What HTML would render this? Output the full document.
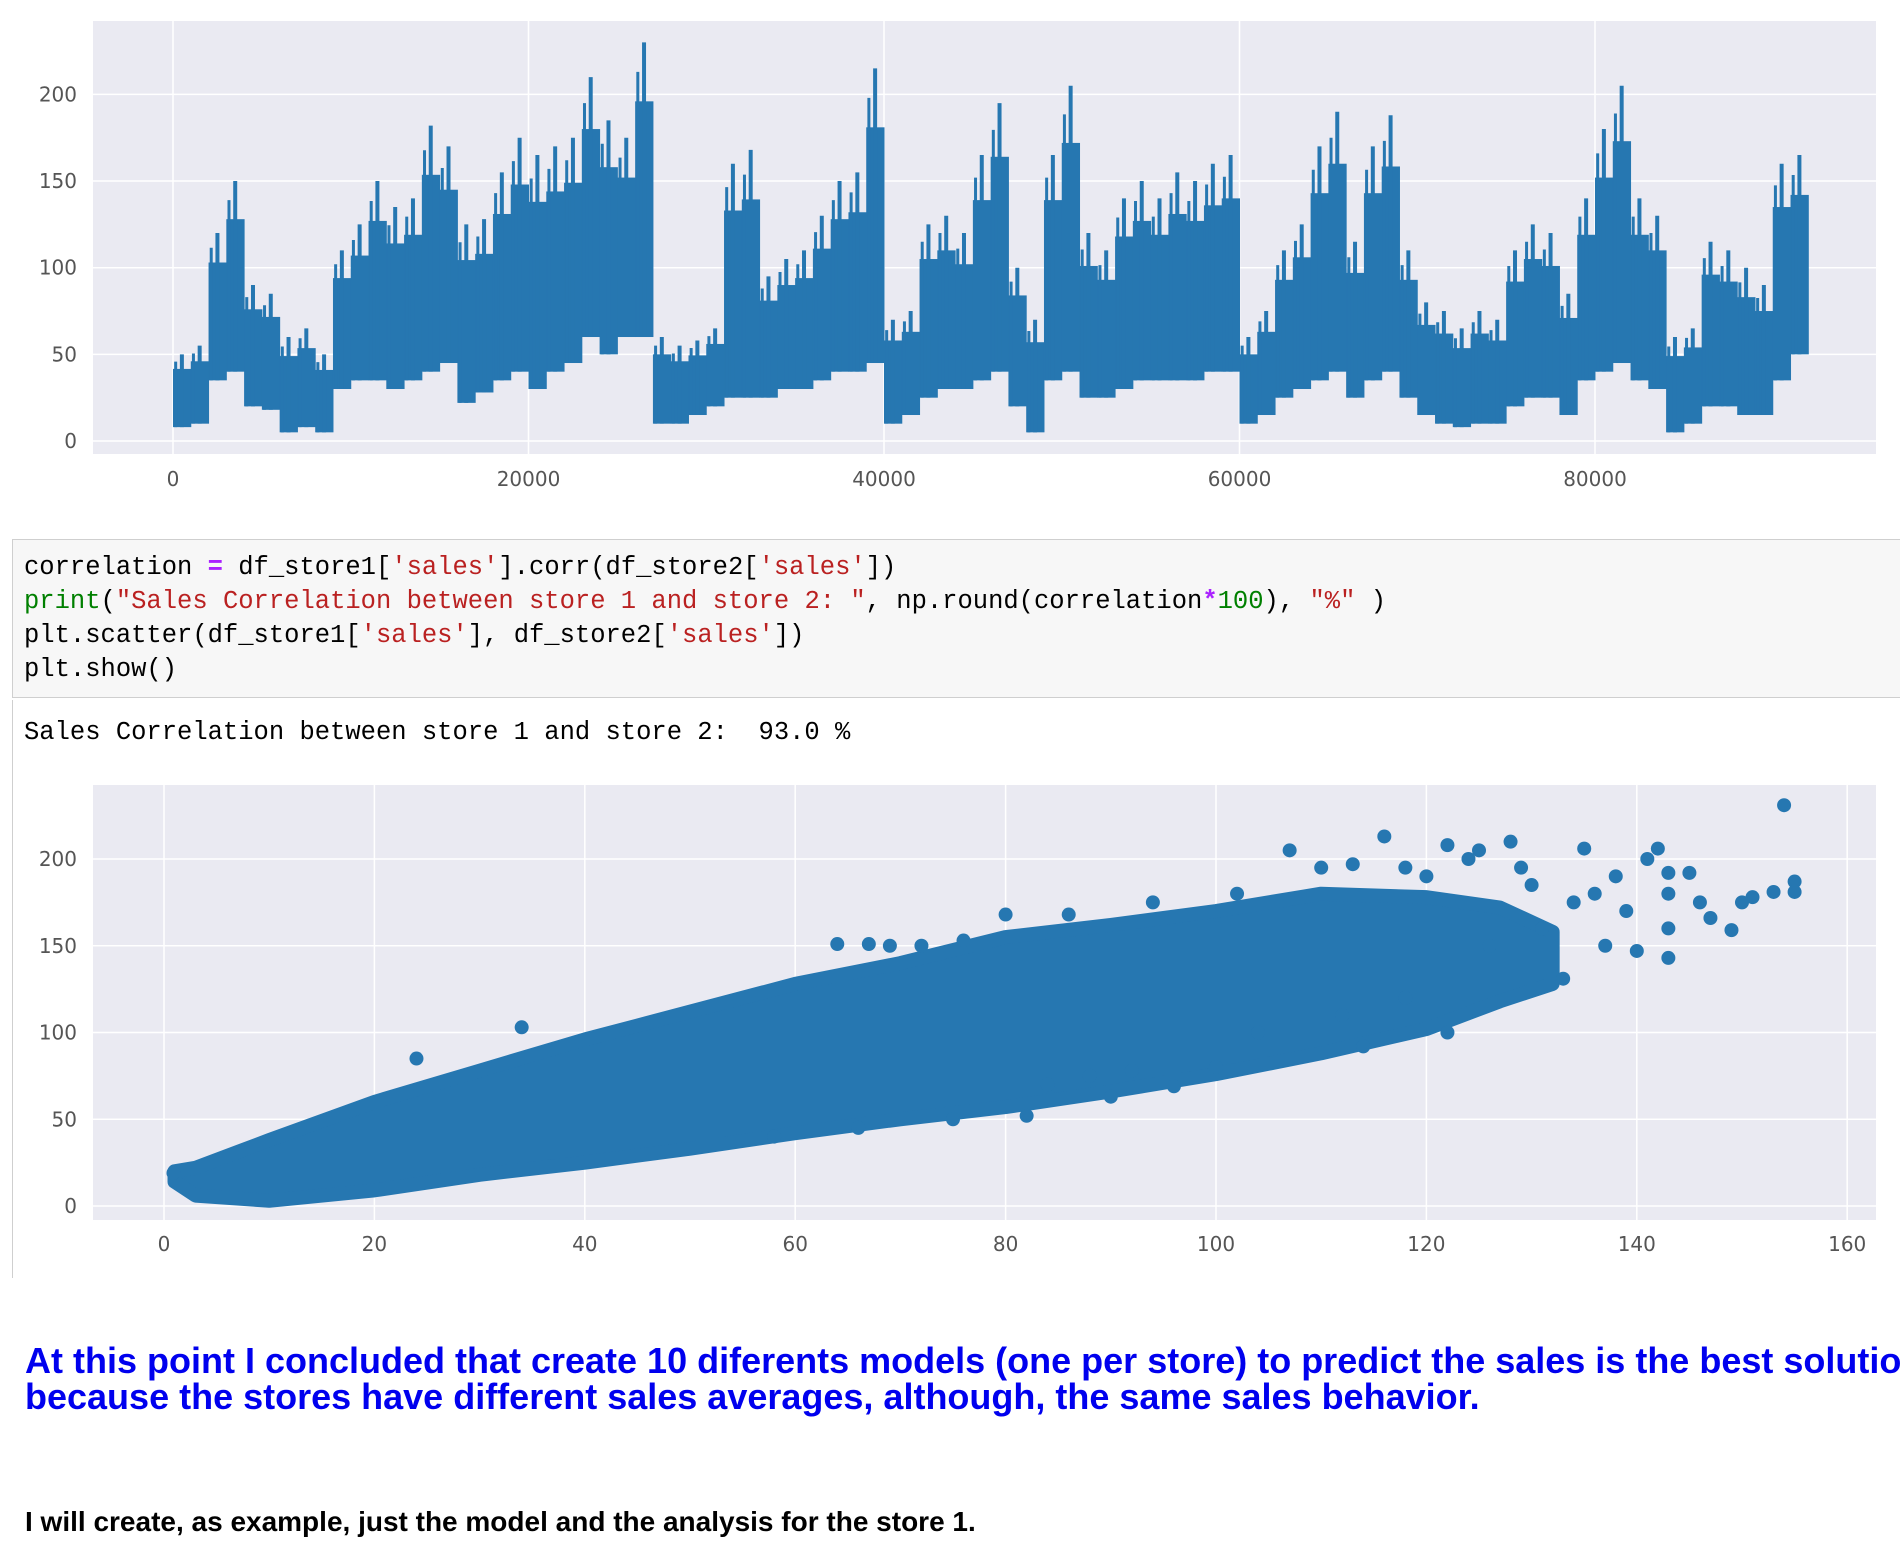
<!DOCTYPE html>
<html><head><meta charset="utf-8">
<style>
html,body{margin:0;padding:0;background:#fff;width:1900px;height:1548px;overflow:hidden;position:relative;font-family:"Liberation Sans",sans-serif}
#charts{position:absolute;left:0;top:0}
.code{position:absolute;left:12px;top:539px;width:1900px;height:159px;background:#f7f7f7;border:1px solid #cfcfcf;box-sizing:border-box}
.mono{font-family:"Liberation Mono",monospace;font-size:25.5px;white-space:pre;position:absolute;left:24px;color:#000}
.k{color:#aa22ff;font-weight:bold}.s{color:#ba2121}.g{color:#008000}
.outbar{position:absolute;left:12px;top:700px;width:1px;height:578px;background:#cfcfcf}
.blue{position:absolute;left:25px;top:1343px;color:#0000ee;font-weight:bold;font-size:36px;line-height:36px;white-space:nowrap}
.black{position:absolute;left:25px;top:1506px;font-weight:bold;font-size:28px;color:#000;white-space:nowrap}
</style></head><body>
<svg id="charts" width="1900" height="1548"></svg>
<div class="code"></div>
<div class="mono" style="top:553px">correlation <span class="k">=</span> df_store1[<span class="s">'sales'</span>].corr(df_store2[<span class="s">'sales'</span>])</div>
<div class="mono" style="top:587px"><span class="g">print</span>(<span class="s">"Sales Correlation between store 1 and store 2: "</span>, np.round(correlation<span class="k">*</span><span class="g">100</span>), <span class="s">"%"</span> )</div>
<div class="mono" style="top:621px">plt.scatter(df_store1[<span class="s">'sales'</span>], df_store2[<span class="s">'sales'</span>])</div>
<div class="mono" style="top:655px">plt.show()</div>
<div class="outbar"></div>
<div class="mono" style="top:718px">Sales Correlation between store 1 and store 2:  93.0 %</div>
<div class="blue">At this point I concluded that create 10 diferents models (one per store) to predict the sales is the best solution<br>because the stores have different sales averages, although, the same sales behavior.</div>
<div class="black">I will create, as example, just the model and the analysis for the store 1.</div>
<script>
const lineHigh=[50,55,120,150,90,85,60,65,50,110,125,150,135,140,182,170,125,128,155,175,165,170,175,210,185,175,230,60,55,58,65,160,168,95,105,110,130,150,155,215,70,75,125,130,120,165,195,100,70,165,205,120,110,140,150,140,155,150,160,165,60,75,110,125,170,190,115,170,188,110,80,75,65,75,70,110,125,120,85,140,180,205,140,130,60,65,115,110,100,90,160,165];
const lineLow=[8,10,35,40,20,18,5,8,5,30,35,35,30,35,40,45,22,28,35,40,30,40,45,60,50,60,60,10,10,15,20,25,25,25,30,30,35,40,40,45,10,15,25,30,30,35,40,20,5,35,40,25,25,30,35,35,35,35,40,40,10,15,25,30,35,40,25,35,40,25,15,10,8,10,10,20,25,25,15,35,40,45,35,30,5,10,20,20,15,15,35,50];
const lineXTicks=[0,20000,40000,60000,80000];
const lineYTicks=[0,50,100,150,200];
const bandX=[1,3,10,20,30,40,50,60,70,80,90,100,110,120,127,132];
const bandLo=[14,6,3,9,18,25,33,42,50,57,66,76,88,102,118,128];
const bandHi=[20,22,38,60,78,96,112,128,140,155,162,170,180,178,172,158];
const outX=[0.9,154,155,155,153,151,150,149,147,146,145,143,140,137,135,142,133,122,114,96,116,107,128,24,34,64,67,80,125,122,143,143,143,141,138,136,139,131,126,118,112,104,92,88,84,69,72,76,86,94,102,110,118,130,134,129,124,120,113,100,90,82,75,66,58];
const outY=[19,231,187,181,181,178,175,159,166,175,192,143,147,150,206,206,131,100,92,69,213,205,210,85,103,151,151,168,205,208,192,180,160,200,190,180,170,160,150,120,110,100,78,75,70,150,150,153,168,175,180,195,195,185,175,195,200,190,197,80,63,52,50,45,40];
const scXTicks=[0,20,40,60,80,100,120,140,160];
const scYTicks=[0,50,100,150,200];
const NS='http://www.w3.org/2000/svg';
const svg=document.getElementById('charts');
function mk(t,a,p){const e=document.createElementNS(NS,t);for(const k in a)e.setAttribute(k,a[k]);(p||svg).appendChild(e);return e;}
const BLUE='#2677b1';
const lx=v=>173+v/20000*355.5, ly=v=>441-v*1.733;
const g1=mk('g',{});


const bg1=mk('rect',{x:93,y:21,width:1783,height:433,fill:'#eaeaf2'},g1);


lineXTicks.forEach(t=>{
  const l=mk('line',{x1:lx(t),x2:lx(t),y1:21,y2:454,stroke:'#fff','stroke-width':1.5},g1);
  
  
  const tx=mk('text',{x:lx(t),y:486,'text-anchor':'middle','font-size':20,fill:'#555','font-family':'DejaVu Sans, sans-serif'},g1);
  tx.textContent=t;
  
  
});
lineYTicks.forEach(t=>{
  const l=mk('line',{x1:93,x2:1876,y1:ly(t),y2:ly(t),stroke:'#fff','stroke-width':1.5},g1);
  
  
  const tx=mk('text',{x:77,y:ly(t)+7,'text-anchor':'end','font-size':20,fill:'#555','font-family':'DejaVu Sans, sans-serif'},g1);
  tx.textContent=t;
  
  
});
lineHigh.forEach((h,i)=>{
  const t=i*1000, lo=lineLow[i];
  const w=lx(t+1000)-lx(t);
  const r=mk('rect',{x:lx(t),y:ly((h+lo)/2+(h-lo)*0.3),width:w+0.5,height:ly(lo)-ly((h+lo)/2+(h-lo)*0.3),fill:BLUE},g1);
  
  
  const sp=mk('line',{x1:lx(t+500),x2:lx(t+500),y1:ly(h),y2:ly(lo),stroke:BLUE,'stroke-width':4},g1);
  
  
  const sp2=mk('line',{x1:lx(t+150),x2:lx(t+150),y1:ly(h*0.9+lo*0.1),y2:ly(lo),stroke:BLUE,'stroke-width':3},g1);
  
  
});
const sx=v=>164+v*10.52, sy=v=>1206-v*1.735;
const g2=mk('g',{});


const bg2=mk('rect',{x:93,y:785,width:1783,height:435,fill:'#eaeaf2'},g2);


scXTicks.forEach(t=>{
  const l=mk('line',{x1:sx(t),x2:sx(t),y1:785,y2:1220,stroke:'#fff','stroke-width':1.5},g2);
  
  
  const tx=mk('text',{x:sx(t),y:1251,'text-anchor':'middle','font-size':20,fill:'#555','font-family':'DejaVu Sans, sans-serif'},g2);
  tx.textContent=t;
  
  
});
scYTicks.forEach(t=>{
  const l=mk('line',{x1:93,x2:1876,y1:sy(t),y2:sy(t),stroke:'#fff','stroke-width':1.5},g2);
  
  
  const tx=mk('text',{x:77,y:sy(t)+7,'text-anchor':'end','font-size':20,fill:'#555','font-family':'DejaVu Sans, sans-serif'},g2);
  tx.textContent=t;
  
  
});
let bp=[];
bandX.forEach((x,i)=>bp.push(sx(x)+','+sy(bandHi[i])));
for(let i=bandX.length-1;i>=0;i--)bp.push(sx(bandX[i])+','+sy(bandLo[i]));
const band=mk('polygon',{points:bp.join(' '),fill:BLUE,stroke:BLUE,'stroke-width':14,'stroke-linejoin':'round'},g2);


outX.forEach((x,i)=>{
  const c=mk('circle',{cx:sx(x),cy:sy(outY[i]),r:7,fill:BLUE},g2);
  
  
});
</script>
</body></html>
